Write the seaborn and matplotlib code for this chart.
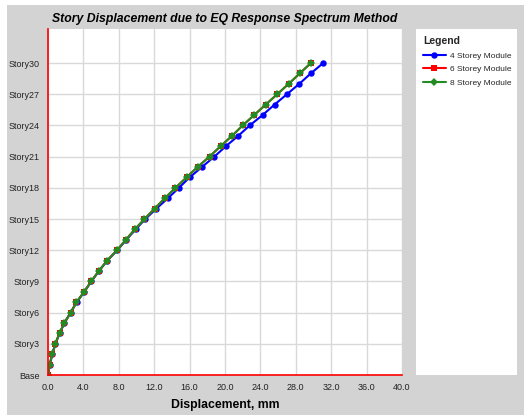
import numpy as np
import pandas as pd
import matplotlib
matplotlib.use("Agg")
import matplotlib.pyplot as plt
import seaborn as sns
from matplotlib.patches import Rectangle

stories = list(range(0, 31))
story_ticks = [0, 3, 6, 9, 12, 15, 18, 21, 24, 27, 30]
story_labels = ["Base", "Story3", "Story6", "Story9", "Story12", "Story15",
                "Story18", "Story21", "Story24", "Story27", "Story30"]

disp_4 = [0.0, 0.19, 0.49, 0.83, 1.3, 1.85, 2.56, 3.24, 4.1, 4.9, 5.76, 6.7,
          7.83, 8.85, 9.9, 11.0, 12.25, 13.55, 14.8, 16.0, 17.4, 18.8, 20.1,
          21.5, 22.8, 24.25, 25.6, 27.0, 28.4, 29.7, 31.1]
disp_6 = [0.0, 0.19, 0.49, 0.83, 1.3, 1.85, 2.56, 3.22, 4.08, 4.88, 5.74, 6.68,
          7.8, 8.8, 9.8, 10.9, 12.05, 13.2, 14.4, 15.65, 16.9, 18.25, 19.5,
          20.8, 22.0, 23.3, 24.6, 25.9, 27.2, 28.45, 29.7]
disp_8 = [0.0, 0.19, 0.49, 0.83, 1.3, 1.85, 2.56, 3.22, 4.08, 4.88, 5.74, 6.68,
          7.8, 8.8, 9.8, 10.9, 12.05, 13.2, 14.4, 15.65, 16.9, 18.25, 19.5,
          20.8, 22.0, 23.3, 24.6, 25.9, 27.2, 28.45, 29.7]
series_names = ["4 Storey Module", "6 Storey Module", "8 Storey Module"]

df = pd.concat([
    pd.DataFrame({"Displacement": d, "Story": stories, "Module": n})
    for d, n in zip([disp_4, disp_6, disp_8], series_names)
], ignore_index=True)

sns.set_style("white")
plt.rcParams["font.family"] = ["Liberation Sans", "DejaVu Sans"]

W, H = 524, 415
fig = plt.figure(figsize=(W / 100, H / 100), dpi=100)
fig.patch.set_facecolor("white")
fig.patches.append(Rectangle((7 / W, 0), 1 - 7 / W, 1 - 5 / H,
                             transform=fig.transFigure, facecolor="#d3d3d3",
                             edgecolor="none", zorder=-10))

ax = fig.add_axes([48 / W, 1 - 375 / H, (402 - 48) / W, (375 - 29) / H])
ax.set_facecolor("white")

palette = {"4 Storey Module": "#0000ff", "6 Storey Module": "#ff0000",
           "8 Storey Module": "#228b22"}
markers = {"4 Storey Module": "o", "6 Storey Module": "s", "8 Storey Module": "D"}
sizes = {"4 Storey Module": 4.6, "6 Storey Module": 4.8, "8 Storey Module": 3.6}

for name in series_names:
    sub = df[df["Module"] == name]
    sns.lineplot(data=sub, x="Displacement", y="Story", sort=False, ax=ax,
                 color=palette[name], marker=markers[name],
                 markersize=sizes[name], markeredgewidth=0,
                 linewidth=1.5, label=name, legend=False)

ax.set_xlim(0, 40)
ax.set_ylim(0, 33.27)
ax.set_xticks(np.arange(0, 40.1, 4))
ax.set_xticklabels([f"{v:.1f}" for v in np.arange(0, 40.1, 4)], fontsize=6.5)
ax.set_yticks(story_ticks)
ax.set_yticklabels(story_labels, fontsize=6.5)
ax.grid(True, color="#d9d9d9", linewidth=1)
ax.set_axisbelow(True)
for s in ["top", "right"]:
    ax.spines[s].set_visible(False)
ax.spines["left"].set_color("red")
ax.spines["bottom"].set_color("red")
ax.spines["left"].set_linewidth(1.2)
ax.spines["bottom"].set_linewidth(1.2)
ax.tick_params(axis="both", length=3, width=0.8, color="#333333", pad=3,
               labelcolor="#222222")
ax.set_xlabel("Displacement, mm", fontsize=8.8, fontweight="bold",
              labelpad=5, color="black")
ax.set_ylabel("")
ax.set_title("Story Displacement due to EQ Response Spectrum Method",
             fontsize=8.8, fontweight="bold", fontstyle="italic", pad=5,
             color="black")

# legend panel
lax = fig.add_axes([416 / W, 1 - 375 / H, (517 - 416) / W, (375 - 29) / H])
lax.set_facecolor("white")
lax.set_xticks([])
lax.set_yticks([])
for s in lax.spines.values():
    s.set_visible(False)
handles, labels = ax.get_legend_handles_labels()
leg = lax.legend(handles, labels, loc="upper left", frameon=False,
                 title="Legend", fontsize=6.0, handlelength=2.7,
                 bbox_to_anchor=(0.02, 0.995),
                 borderaxespad=0.2, labelspacing=0.72, handletextpad=0.5,
                 alignment="left")
leg.get_title().set_fontweight("bold")
leg.get_title().set_fontsize(7.5)

fig.savefig("out.png", dpi=100)
